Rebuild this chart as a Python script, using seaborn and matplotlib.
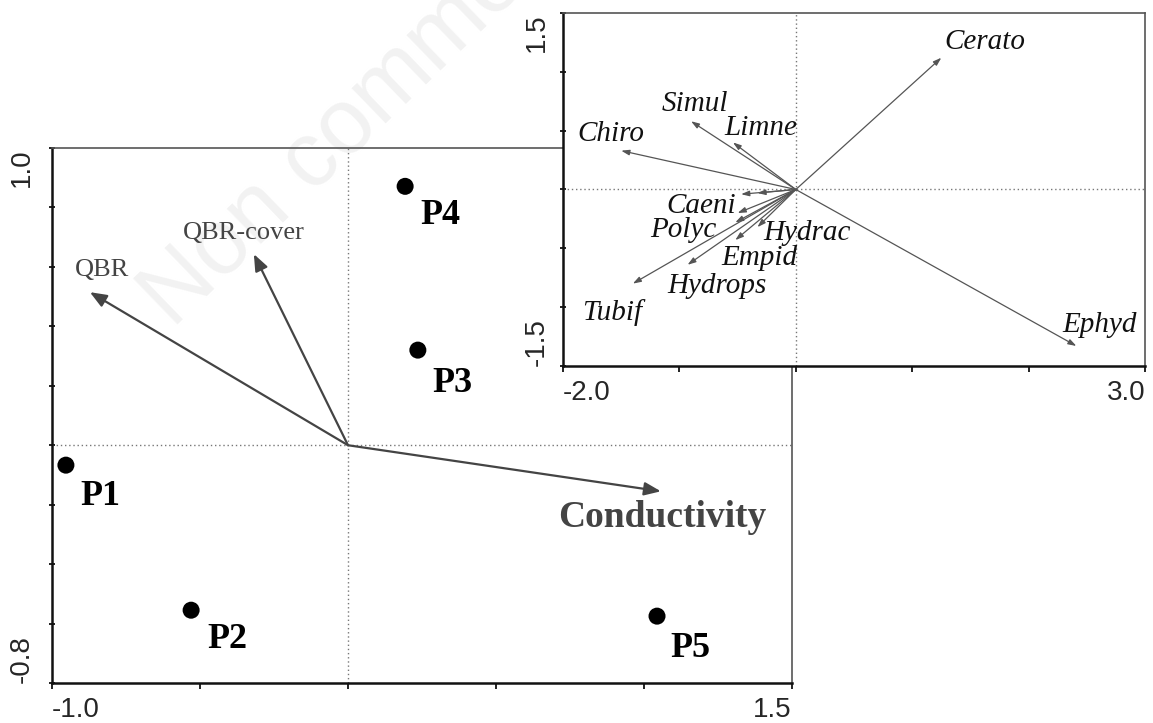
import matplotlib
matplotlib.use("Agg")
import matplotlib.pyplot as plt
import seaborn as sns
import pandas as pd

# sites (main biplot)
sites = ["P1", "P2", "P3", "P4", "P5"]
site_x = [-0.953, -0.530, 0.236, 0.193, 1.044]
site_y = [-0.067, -0.555, 0.320, 0.871, -0.575]

# environmental vectors
env_names = ["QBR", "QBR-cover", "Conductivity"]
env_x = [-0.872, -0.318, 1.057]
env_y = [0.515, 0.643, -0.155]

# species vectors (inset); two short unlabelled ones
species = ["Cerato", "Ephyd", "Chiro", "Simul", "Limne", "Tubif", "Hydrops",
           "Empid", "Hydrac", "Polyc", "Caeni", "", ""]
spec_x = [1.25, 2.41, -1.50, -0.90, -0.54, -1.40, -0.93,
          -0.52, -0.33, -0.52, -0.50, -0.47, -0.33]
spec_y = [1.12, -1.33, 0.33, 0.58, 0.40, -0.80, -0.64,
          -0.43, -0.32, -0.28, -0.20, -0.04, -0.03]

# label anchors (left, baseline)
site_lab = [(-0.905, -0.200), (-0.476, -0.683), (0.284, 0.178),
            (0.243, 0.744), (1.088, -0.713)]
env_lab = [(-0.922, 0.569), (-0.557, 0.693), (0.709, -0.276)]
spec_lab = [(1.28, 1.19), (2.29, -1.21), (-1.88, 0.41), (-1.15, 0.67),
            (-0.61, 0.46), (-1.84, -1.11), (-1.10, -0.88), (-0.64, -0.64),
            (-0.28, -0.43), (-1.25, -0.40), (-1.11, -0.20), None, None]

sns.set_style("white")
plt.rcParams["font.family"] = ["Liberation Sans", "DejaVu Sans"]
SERIF = ["Liberation Serif", "DejaVu Serif"]

fig = plt.figure(figsize=(11.53, 7.23), dpi=100)


def style_axes(ax, xlim, ylim, xt, yt, xlabs, ylabs, ypad):
    ax.set_xlim(*xlim)
    ax.set_ylim(*ylim)
    ax.axhline(0, color="#777777", lw=1.0, ls=(0, (1, 2)), zorder=1)
    ax.axvline(0, color="#777777", lw=1.0, ls=(0, (1, 2)), zorder=1)
    for s in ["left", "bottom"]:
        ax.spines[s].set_linewidth(1.8)
        ax.spines[s].set_color("#111111")
    for s in ["top", "right"]:
        ax.spines[s].set_linewidth(1.2)
        ax.spines[s].set_color("#555555")
    ax.set_xticks(xt)
    ax.set_yticks(yt)
    ax.set_xticklabels(xlabs, fontsize=20)
    ax.set_yticklabels(ylabs, fontsize=20, rotation=90)
    ax.tick_params(axis="x", direction="out", length=4, width=1.3, pad=6,
                   color="#111111", bottom=True)
    ax.tick_params(axis="y", direction="inout", length=5, width=1.3, pad=ypad,
                   color="#111111", left=True)
    tl = ax.get_xticklabels()
    tl[0].set_ha("left")
    tl[-1].set_ha("right")
    yl = ax.get_yticklabels()
    yl[0].set_va("bottom")
    yl[-1].set_va("top")
    ax.set_xlabel("")
    ax.set_ylabel("")


# main plot
ax = fig.add_axes([0.0451, 0.0553, 0.6418, 0.7400])
ax.set_facecolor("white")

# faint watermark
ax.text(0.150, 0.545, "Non commercial use only", transform=fig.transFigure,
        rotation=44, rotation_mode="anchor", ha="left", va="baseline",
        fontsize=66, color="#f2f2f2", zorder=0.5, clip_on=False)

site_df = pd.DataFrame({"site": sites, "x": site_x, "y": site_y})
sns.scatterplot(data=site_df, x="x", y="y", ax=ax, color="black", s=150,
                edgecolor="none", zorder=4, legend=False)
for name, (lx, ly) in zip(sites, site_lab):
    ax.text(lx, ly, name, fontsize=26, fontweight="bold", family=SERIF,
            ha="left", va="baseline", color="black", zorder=5)

for name, ex, ey, (lx, ly) in zip(env_names, env_x, env_y, env_lab):
    ax.annotate("", xy=(ex, ey), xytext=(0, 0),
                arrowprops=dict(arrowstyle="-|>,head_length=0.5,head_width=0.2",
                                color="#444444", lw=1.6, mutation_scale=20,
                                shrinkA=0, shrinkB=0), zorder=3)
    big = name == "Conductivity"
    ax.text(lx, ly, name, fontsize=27 if big else 19,
            fontweight="bold" if big else "normal", family=SERIF,
            ha="left", va="baseline", color="#444444", zorder=5)

style_axes(ax, (-1.0, 1.5), (-0.8, 1.0),
           [-1.0, -0.5, 0.0, 0.5, 1.0, 1.5],
           [-0.8, -0.6, -0.4, -0.2, 0.0, 0.2, 0.4, 0.6, 0.8, 1.0],
           ["-1.0", "", "", "", "", "1.5"],
           ["-0.8", "", "", "", "", "", "", "", "", "1.0"], 10)

# species inset
ins = fig.add_axes([0.4883, 0.4938, 0.5048, 0.4882])
ins.set_zorder(5)
ins.set_facecolor("white")
for name, sx, sy, lab in zip(species, spec_x, spec_y, spec_lab):
    ins.annotate("", xy=(sx, sy), xytext=(0, 0),
                 arrowprops=dict(arrowstyle="-|>,head_length=0.6,head_width=0.2",
                                 color="#555555", lw=0.9, mutation_scale=8,
                                 shrinkA=0, shrinkB=0), zorder=3)
    if lab is not None:
        ins.text(lab[0], lab[1], name, fontsize=21, fontstyle="italic",
                 family=SERIF, ha="left", va="baseline", color="#111111",
                 zorder=5)

style_axes(ins, (-2.0, 3.0), (-1.5, 1.5),
           [-2.0, -1.0, 0.0, 1.0, 2.0, 3.0],
           [-1.5, -1.0, -0.5, 0.0, 0.5, 1.0, 1.5],
           ["-2.0", "", "", "", "", "3.0"],
           ["-1.5", "", "", "", "", "", "1.5"], 7)

fig.savefig("out.png", dpi=100, facecolor="white")
plt.close(fig)
